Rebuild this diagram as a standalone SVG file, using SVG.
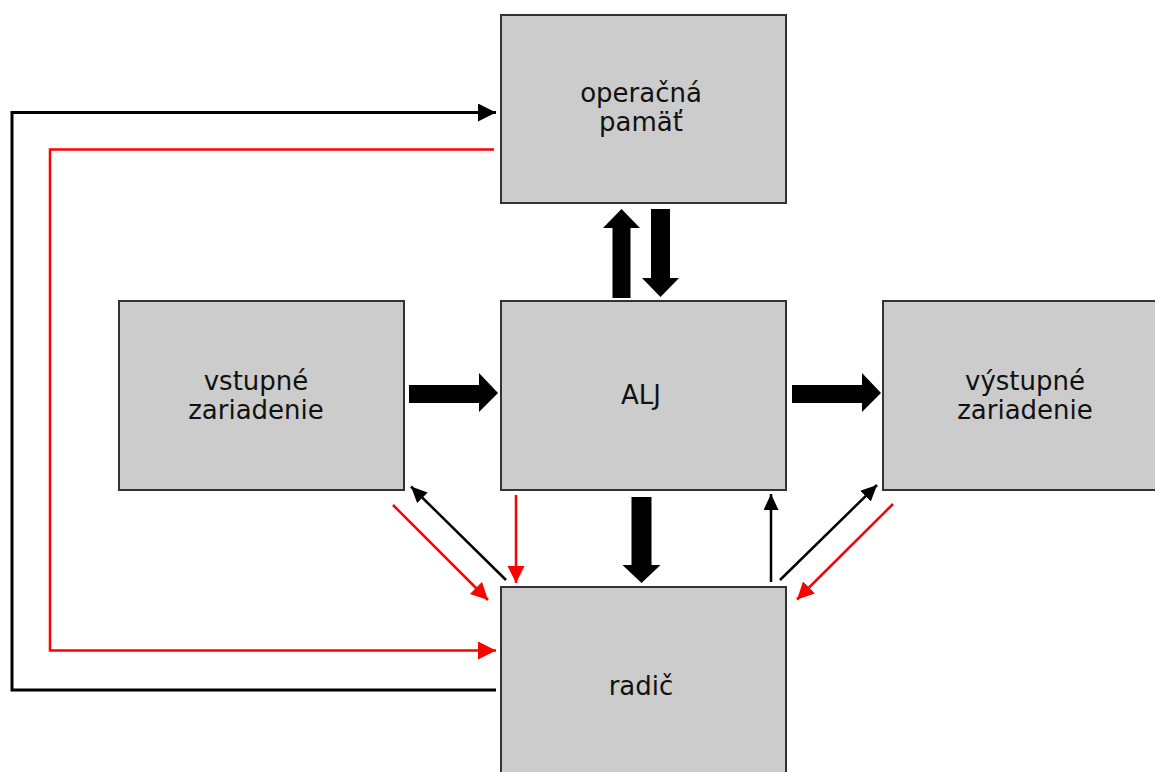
<svg xmlns="http://www.w3.org/2000/svg" width="1155" height="772" viewBox="0 0 1155 772">
<style>
.box{fill:#cccccc;stroke:#333333;stroke-width:2}
.lbl{font-family:"DejaVu Sans",Verdana,sans-serif;font-size:26px;fill:#111111;text-anchor:middle}
.blk{fill:none;stroke:#000000;stroke-width:3}
.red{fill:none;stroke:#ff0000;stroke-width:2.5}
.thb{fill:none;stroke:#000000;stroke-width:2.5}
.big{fill:#000000}
</style>
<defs>
<marker id="ab" markerUnits="userSpaceOnUse" markerWidth="20" markerHeight="20" refX="18" refY="9" orient="auto"><path d="M0,0 L18,9 L0,18 Z" fill="#000"/></marker>
<marker id="ar" markerUnits="userSpaceOnUse" markerWidth="20" markerHeight="20" refX="18" refY="9" orient="auto"><path d="M0,0 L18,9 L0,18 Z" fill="#f00"/></marker>
<marker id="ar2" markerUnits="userSpaceOnUse" markerWidth="20" markerHeight="20" refX="17" refY="8.5" orient="auto"><path d="M0,0 L17,8.5 L0,17 Z" fill="#f00"/></marker>
<marker id="ab2" markerUnits="userSpaceOnUse" markerWidth="20" markerHeight="20" refX="16" refY="7.5" orient="auto"><path d="M0,0 L16,7.5 L0,15 Z" fill="#000"/></marker>
</defs>
<g id="connectors">
<polyline class="blk" points="496,690 12,690 12,112.5 496,112.5" marker-end="url(#ab)"/>
<polyline class="red" points="494,149.5 50,149.5 50,650.5 496,650.5" marker-end="url(#ar)"/>
<polygon class="big" points="612.5,298 630.5,298 630.5,228 640,228 621.5,209 603,228 612.5,228"/>
<polygon class="big" points="651,209 670,209 670,278 679,278 660.5,297 642,278 651,278"/>
<polygon class="big" points="409,385 479,385 479,373 498,393 479,412 479,403 409,403"/>
<polygon class="big" points="792,385 862,385 862,373 881,393 862,412 862,403 792,403"/>
<polygon class="big" points="631.5,497 651.5,497 651.5,565 660.5,565 641.5,583 622.5,565 631.5,565"/>
<line class="thb" x1="506" y1="580" x2="411" y2="486.5" marker-end="url(#ab2)"/>
<line class="red" x1="393" y1="505" x2="488" y2="600" marker-end="url(#ar2)"/>
<line class="red" x1="516" y1="495" x2="516" y2="583" marker-end="url(#ar2)"/>
<line class="thb" x1="771" y1="582" x2="771" y2="494" marker-end="url(#ab2)"/>
<line class="thb" x1="780" y1="580" x2="877" y2="485" marker-end="url(#ab2)"/>
<line class="red" x1="893" y1="504" x2="797" y2="599.5" marker-end="url(#ar2)"/>
</g>
<g id="n-pamat">
<rect class="box" x="501" y="15" width="285" height="188"/>
<text class="lbl" x="641" y="102">operačná</text>
<text class="lbl" x="641" y="131">pamäť</text>
</g>
<g id="n-vstup">
<rect class="box" x="119" y="301" width="285" height="189"/>
<text class="lbl" x="256" y="390">vstupné</text>
<text class="lbl" x="256" y="419">zariadenie</text>
</g>
<g id="n-alj">
<rect class="box" x="501" y="301" width="285" height="189"/>
<text class="lbl" x="641" y="404">ALJ</text>
</g>
<g id="n-vystup">
<rect class="box" x="883" y="301" width="285" height="189"/>
<text class="lbl" x="1025" y="390">výstupné</text>
<text class="lbl" x="1025" y="419">zariadenie</text>
</g>
<g id="n-radic">
<rect class="box" x="501" y="587" width="285" height="200"/>
<text class="lbl" x="641" y="695">radič</text>
</g>
</svg>
